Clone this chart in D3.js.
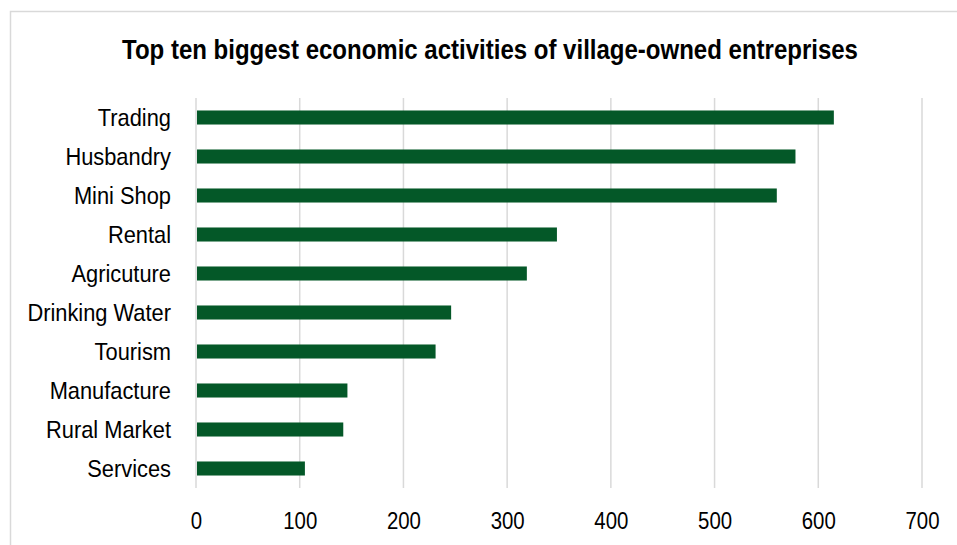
<!DOCTYPE html>
<html>
<head>
<meta charset="utf-8">
<script src="https://cdn.jsdelivr.net/npm/d3@7"></script>
<style>
  body { margin: 0; background: #fff; }
  svg { display: block; }
  text { font-family: "Liberation Sans Narrow", "Arial Narrow", "Liberation Sans", Arial, sans-serif; }
</style>
</head>
<body>
<div id="chart"></div>
<script>
// data
const categories = ["Trading", "Husbandry", "Mini Shop", "Rental", "Agricuture",
    "Drinking Water", "Tourism", "Manufacture", "Rural Market", "Services"];
const counts = [615, 578, 560, 348, 319, 246, 231, 146, 142, 105];
const xTicks = [0, 100, 200, 300, 400, 500, 600, 700];
const chartTitle = "Top ten biggest economic activities of village-owned entreprises";

const W = 957, H = 545;

const svg = d3.select("#chart").append("svg")
    .attr("width", W)
    .attr("height", H);

// chart frame (cut off on the right and bottom like the reference)
svg.append("rect")
    .attr("x", 10.5).attr("y", 11.5)
    .attr("width", W + 20).attr("height", H + 20)
    .attr("fill", "#fff")
    .attr("stroke", "#d9d9d9")
    .attr("stroke-width", 1.5);

// scales
const x = d3.scaleLinear()
    .domain([0, 700])
    .range([196, 922]);

const y = d3.scaleBand()
    .domain(categories)
    .range([98, 488])
    .paddingInner(0.64)
    .paddingOuter(0.32);

// vertical gridlines
svg.append("g")
    .attr("class", "grid")
    .selectAll("line")
    .data(xTicks)
    .join("line")
    .attr("x1", d => x(d)).attr("x2", d => x(d))
    .attr("y1", 98).attr("y2", 488)
    .attr("stroke", "#d9d9d9")
    .attr("stroke-width", 1.5);

// bars
let data = categories.map((c, i) => ({cat: c, val: counts[i]}));

svg.append("g")
    .selectAll("rect")
    .data(data)
    .join("rect")
    .attr("x", x(0) + 1)
    .attr("y", d => y(d.cat))
    .attr("width", d => x(d.val) - x(0) - 1)
    .attr("height", y.bandwidth())
    .attr("fill", "#045828");

// x axis labels (squeezed horizontally, no narrow font installed)
const xAxis = d3.axisBottom(x)
    .tickValues(xTicks)
    .tickSize(0)
    .tickPadding(0);

const xg = svg.append("g")
    .attr("transform", "translate(0,511)")
    .call(xAxis);
xg.select(".domain").remove();
xg.selectAll("text")
    .attr("dy", null)
    .attr("y", 18)
    .attr("fill", "#000")
    .attr("transform", "scale(0.85,1)")
    .style("font-size", "24px")
    .style("font-family", "'Liberation Sans Narrow', 'Arial Narrow', 'Liberation Sans', sans-serif");

// category labels
const yAxis = d3.axisLeft(y)
    .tickSize(0)
    .tickPadding(0);

const yg = svg.append("g")
    .attr("transform", "translate(171,0)")
    .call(yAxis);
yg.select(".domain").remove();
yg.selectAll("text")
    .attr("dy", "0.36em")
    .attr("fill", "#000")
    .attr("transform", "scale(0.91,1)")
    .style("font-size", "24px")
    .style("font-family", "'Liberation Sans Narrow', 'Arial Narrow', 'Liberation Sans', sans-serif");

// title
const title = svg.append("g")
    .attr("transform", "translate(490,59)")
    .append("text")
    .attr("text-anchor", "middle")
    .attr("font-weight", "bold")
    .style("font-size", "28px")
    .attr("fill", "#000")
    .text(chartTitle);

let tw = title.node().getComputedTextLength();
title.attr("transform", `scale(${736 / tw},1)`);
</script>
</body>
</html>
